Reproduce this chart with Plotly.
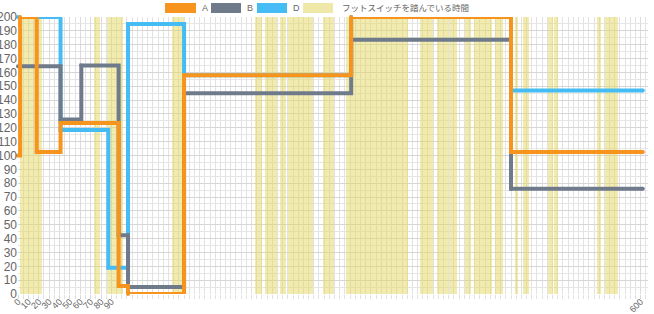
import plotly.graph_objects as go

# ---- data ----
a_x = [0, 2, 18, 41, 97, 106, 160, 321, 475, 602]
a_y = [100, 200, 102.5, 123.5, 5.8, 0, 158, 200, 102.5, 102.5]
b_x = [0, 41, 61, 97, 106, 160, 321, 475, 602]
b_y = [164.5, 126, 165, 42.5, 5, 145, 183.5, 76, 76]
d_x = [0, 41, 87, 106, 160, 321, 475, 602]
d_y = [200, 118.5, 19, 195, 158, 200, 147, 147]

# foot-switch pressed intervals (start, end)
band_start = [2, 73, 86, 148.5, 228.5, 238, 252.5, 260, 294, 316, 387.5, 404, 415.5,
              431, 439, 460, 479, 487, 511, 516, 558, 566]
band_end = [23, 79, 101, 160, 235, 250, 258.5, 284.5, 304, 376, 400, 414, 423,
            436, 457, 467, 482, 492, 515, 520, 562, 578.5]
band_top = 200

x_tickvals = [0, 10, 20, 30, 40, 50, 60, 70, 80, 90, 600]
x_ticktext = [str(v) for v in x_tickvals]

legend_names = ["A", "B", "D", "フットスイッチを踏んでいる時間"]

C_A = "#F7941D"
C_B = "#6F7B8B"
C_D = "#45BDF4"
C_BAND = "rgba(230,216,95,0.5)"
C_BAND_LEG = "#EFE8A8"

fig = go.Figure()

fig.add_trace(go.Bar(
    x=[(s + e) / 2 for s, e in zip(band_start, band_end)],
    y=[band_top] * len(band_start),
    width=[e - s for s, e in zip(band_start, band_end)],
    marker=dict(color=C_BAND, line=dict(width=0)),
    name=legend_names[3], hoverinfo="skip",
))

for xs, ys, col, nm in [(d_x, d_y, C_D, "D"), (b_x, b_y, C_B, "B"), (a_x, a_y, C_A, "A")]:
    fig.add_trace(go.Scatter(
        x=xs, y=ys, mode="lines+markers", line=dict(color=col, width=4, shape="hv"),
        marker=dict(color=col, size=4), name=nm, cliponaxis=False,
    ))

# geometry (pixels)
W, H = 654, 314
L, R, T, B = 18, 6, 17, 20
pw, ph = W - L - R, H - T - B

def px(xp):
    return (xp - L) / pw

def py(yp):
    return (H - B - yp) / ph

# manual legend
leg = [(165, 196, C_A, 200), (211, 241, C_B, 245), (257, 287, C_D, 291), (303, 333, C_BAND_LEG, 340)]
shapes = []
annots = []
for (x0, x1, col, tx), nm in zip(leg, legend_names):
    shapes.append(dict(type="rect", xref="paper", yref="paper", x0=px(x0), x1=px(x1),
                       y0=py(13), y1=py(3), fillcolor=col, line=dict(width=0), layer="above"))
    annots.append(dict(xref="paper", yref="paper", x=px(tx), y=py(8), text=nm, showarrow=False,
                       xanchor="left", yanchor="middle",
                       font=dict(size=9 if nm in "ABD" else 8.5, color="#666",
                                 family="Liberation Sans, Noto Sans CJK JP")))

fig.update_layout(
    width=W, height=H,
    margin=dict(l=L, r=R, t=T, b=B, autoexpand=False),
    paper_bgcolor="white", plot_bgcolor="white",
    showlegend=False, bargap=0,
    shapes=shapes, annotations=annots,
    font=dict(family="Liberation Sans, Noto Sans CJK JP", color="#666"),
)
fig.update_xaxes(
    range=[0, 607], tickmode="array", tickvals=x_tickvals, ticktext=x_ticktext,
    tickangle=-45, tickfont=dict(size=9, color="#666"), ticklabelstandoff=-6,
    showgrid=True, gridcolor="#dcdcdc", gridwidth=1, zeroline=False, showline=False,
    ticks="outside", ticklen=4, tickcolor="#d8d8d8",
    minor=dict(dtick=5, tick0=0, showgrid=True, gridcolor="#e2e2e2", ticks="outside",
               ticklen=4, tickcolor="#e0e0e0"),
)
fig.update_yaxes(
    range=[0, 200], dtick=10, tickfont=dict(size=12, color="#666"),
    showgrid=True, gridcolor="#d6d6d6", zeroline=False, showline=False, ticks="",
    minor=dict(dtick=5, showgrid=True, gridcolor="#e6e6e6"),
)

fig.write_html("out.html")
